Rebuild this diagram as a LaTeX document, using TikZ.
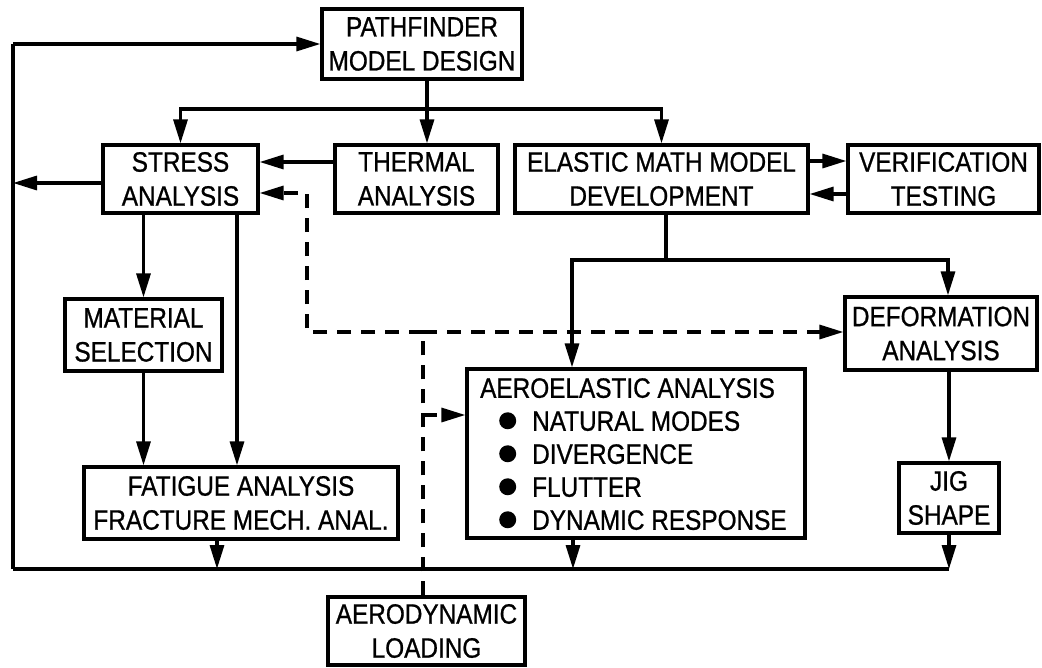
\documentclass[tikz,border=0pt]{standalone}
\usepackage{fontspec}
\setmainfont[FakeStretch=0.87,FakeBold=0.8]{Liberation Sans}
\usetikzlibrary{arrows.meta}
\newcommand\bdot{\raisebox{1.5pt}{\tikz\fill (0,0) circle[radius=8.5pt];}}
\begin{document}
\begin{tikzpicture}[x=1pt,y=-1pt, line width=3.2pt,
  box/.style={draw, inner sep=0pt, align=center, font=\fontsize{28}{34}\selectfont},
  arr/.style={-{Triangle[length=24pt,width=14pt]}},
  darr/.style={arr, dash pattern=on 14pt off 10pt}]
\useasboundingbox (0,0) rectangle (1042,667);
% boxes
\node[box, minimum width=200pt, minimum height=70pt] (pmd) at (422,44) {PATHFINDER\\MODEL DESIGN};
\node[box, minimum width=155pt, minimum height=68pt] (stress) at (180.5,179) {STRESS\\ANALYSIS};
\node[box, minimum width=163pt, minimum height=68pt] (thermal) at (416.5,179) {THERMAL\\ANALYSIS};
\node[box, minimum width=293pt, minimum height=68pt] (elastic) at (661.5,179) {ELASTIC MATH MODEL\\DEVELOPMENT};
\node[box, minimum width=191pt, minimum height=68pt] (verif) at (943.5,179) {VERIFICATION\\TESTING};
\node[box, minimum width=157pt, minimum height=72pt] (material) at (143.5,335) {MATERIAL\\SELECTION};
\node[box, minimum width=192pt, minimum height=73pt] (deform) at (941,333.5) {DEFORMATION\\ANALYSIS};
\node[box, minimum width=338pt, minimum height=169pt] (aero) at (636,453.5) {};
\node[anchor=north west, inner sep=0pt, align=left, font=\fontsize{28}{33}\selectfont] (aerotxt) at (480,378)
  {AEROELASTIC ANALYSIS\\
   \hspace*{19pt}\bdot\hspace*{16pt}NATURAL MODES\\
   \hspace*{19pt}\bdot\hspace*{16pt}DIVERGENCE\\
   \hspace*{19pt}\bdot\hspace*{16pt}FLUTTER\\
   \hspace*{19pt}\bdot\hspace*{16pt}DYNAMIC RESPONSE};
\node[box, minimum width=100pt, minimum height=70pt] (jig) at (949,498) {JIG\\SHAPE};
\node[box, minimum width=314pt, minimum height=72pt] (fatigue) at (241,503) {FATIGUE ANALYSIS\\FRACTURE MECH. ANAL.};
\node[box, minimum width=197pt, minimum height=68pt] (aerodyn) at (426.5,631) {AERODYNAMIC\\LOADING};
% coordinates
\coordinate (j1) at (427,109);
\coordinate (lt) at (13,44);
\coordinate (lb) at (13,569);
\coordinate (e1) at (666,260);
\coordinate (d1) at (423,332);
\coordinate (d2) at (307,193);
\coordinate (d3) at (423,415);
\coordinate (s1) at ([yshift=-4pt]stress.west);
\coordinate (s3) at ([yshift=-14pt]stress.east);
\coordinate (f1) at ([xshift=-24pt]fatigue.south);
\coordinate (a1) at ([xshift=-63pt]aero.south);
% top distribution
\draw[arr] (pmd.south -| j1) -- (thermal.north -| j1);
\draw[arr] (j1) -| (stress.north);
\draw[arr] (j1) -| (elastic.north);
\draw[arr] ([yshift=17pt]thermal.west) -- ([yshift=17pt]stress.west -| stress.east);
\draw[arr] ([yshift=18pt]elastic.east) -- ([yshift=18pt]verif.west);
\draw[arr] ([yshift=-15pt]verif.west) -- ([yshift=-15pt]elastic.east);
% feedback loop
\draw (lb) -- (lt);
\draw[arr] (lt) -- (pmd.west);
\draw[arr] (s1) -- (s1 -| lt);
\draw (lb) -- (lb -| jig.south);
% stress branch
\draw[arr] (stress.south -| material.north) -- (material.north);
\draw[arr] (stress.south -| 237,0) -- (fatigue.north -| 237,0);
\draw[arr] (material.south) -- (material.south |- fatigue.north);
\draw[arr] (f1) -- (f1 |- lb);
% elastic branch
\draw (elastic.south -| e1) -- (e1);
\draw[arr] (e1) -| ([xshift=-64pt]aero.north);
\draw[arr] (e1) -| ([xshift=7pt]deform.north);
\draw[arr] (deform.south -| jig.north) -- (jig.north);
\draw[arr] (a1) -- (a1 |- lb);
\draw[arr] (jig.south) -- (jig.south |- lb);
% dashed aerodynamic loading
\draw[dash pattern=on 14pt off 10pt] (aerodyn.north -| d1) -- (d1);
\draw[darr] (d1) -- (d1 -| deform.west);
\draw[darr] (d1) -| (d2) -- (s3);
\draw[darr] (d3) -- (d3 -| aero.west);
\end{tikzpicture}
\end{document}
